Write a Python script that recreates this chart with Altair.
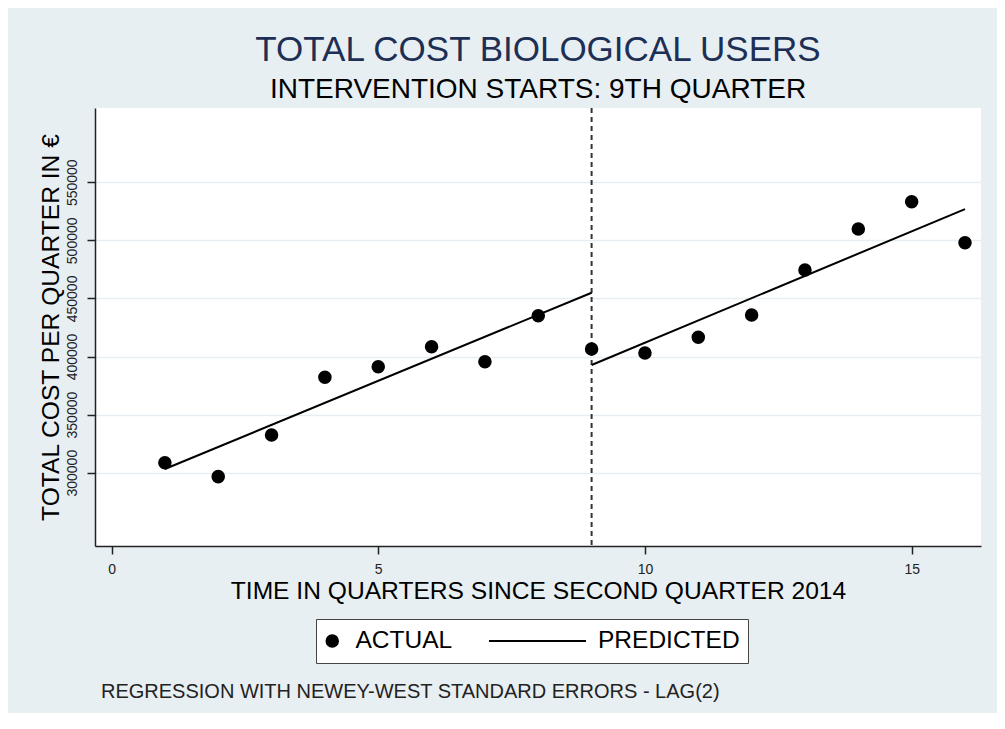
import altair as alt
import pandas as pd

# ---- data ----
quarters = list(range(1, 17))
actual = [308600, 296600, 332400, 382100, 391200, 408400, 395500, 435100,
          406500, 403000, 416500, 435700, 474400, 509700, 533200, 497900]
pred_x = [1, 9, 9, 16]
pred_y = [303200, 454900, 392700, 526900]
pred_seg = ["before", "before", "after", "after"]
intervention = [9]
x_ticks = [0, 5, 10, 15]
y_ticks = [300000, 350000, 400000, 450000, 500000, 550000]
series = ["ACTUAL", "PREDICTED"]
note = ["REGRESSION WITH NEWEY-WEST STANDARD ERRORS - LAG(2)"]

FONT = "Liberation Sans"
BG = "#e8eff2"

pts_df = pd.DataFrame({"t": quarters, "cost": actual, "series": ["ACTUAL"] * len(quarters)})
pred_df = pd.DataFrame({"t": pred_x, "cost": pred_y, "seg": pred_seg})
rule_df = pd.DataFrame({"t": intervention})
note_df = pd.DataFrame({"note": note})

x_scale = alt.Scale(domain=[-0.31, 16.3], nice=False, zero=False)
y_scale = alt.Scale(domain=[236900, 613900], nice=False, zero=False)

x_axis = alt.Axis(values=x_ticks, title="TIME IN QUARTERS SINCE SECOND QUARTER 2014",
                  grid=False, labelPadding=8, titlePadding=3, format="d")
y_axis = alt.Axis(values=y_ticks, title="TOTAL COST PER QUARTER IN €", grid=True,
                  labelAngle=270, labelPadding=8, titlePadding=2, format="d")

legend = alt.Legend(title=None, orient="none", legendX=221, legendY=511,
                    direction="horizontal", columns=0,
                    fillColor="white", strokeColor="#444", padding=8,
                    symbolStrokeWidth=2, symbolOffset=-4, labelOffset=11,
                    clipHeight=28, columnPadding=36,
                    labelFont=FONT, labelFontSize=24.5, labelColor="black",
                    labelLimit=300)

points = alt.Chart(pts_df).mark_point(filled=True, color="black", stroke="black",
                                      strokeWidth=2, opacity=1).encode(
    x=alt.X("t:Q", scale=x_scale, axis=x_axis),
    y=alt.Y("cost:Q", scale=y_scale, axis=y_axis),
    shape=alt.Shape("series:N", scale=alt.Scale(domain=series, range=["circle", "stroke"]),
                    legend=legend),
    size=alt.Size("series:N", scale=alt.Scale(type="point", domain=series,
                                              range=[133, 10000], padding=0),
                  legend=legend),
)

pred = alt.Chart(pred_df).mark_line(color="black", strokeWidth=2).encode(
    x=alt.X("t:Q", scale=x_scale),
    y=alt.Y("cost:Q", scale=y_scale),
    detail="seg:N",
)

rule = alt.Chart(rule_df).mark_rule(color="#333", strokeWidth=2, strokeDash=[5, 4]).encode(
    x=alt.X("t:Q", scale=x_scale),
)

note_layer = alt.Chart(note_df).mark_text(align="left", baseline="alphabetic", font=FONT,
                                          fontSize=20, color="#222").encode(
    text="note:N", x=alt.value(6), y=alt.value(590)
)

chart = alt.layer(rule, pred, points, note_layer).properties(
    width=886, height=438,
    autosize=alt.AutoSizeParams(type="none"),
    padding={"left": 87, "top": 100, "right": 16, "bottom": 167},
    background=BG,
    title=alt.TitleParams(
        text="TOTAL COST BIOLOGICAL USERS",
        subtitle="INTERVENTION STARTS: 9TH QUARTER",
        anchor="middle", frame="group", font=FONT, fontSize=35, fontWeight="normal",
        color="#1e2f56", subtitleFont=FONT, subtitleFontSize=28, subtitleColor="black",
        subtitlePadding=8, offset=3,
    ),
).configure_view(
    fill="white", stroke=None
).configure_axis(
    labelFont=FONT, labelFontSize=14, labelColor="#222",
    titleFont=FONT, titleFontSize=24.6, titleFontWeight="normal", titleColor="black",
    domainColor="#222", domainWidth=1.5, tickColor="#222", tickWidth=1.5, tickSize=8,
    gridColor="#e6eef1", gridWidth=1.5,
)

chart.save("out.html", embed_options={"renderer": "svg", "actions": False})
